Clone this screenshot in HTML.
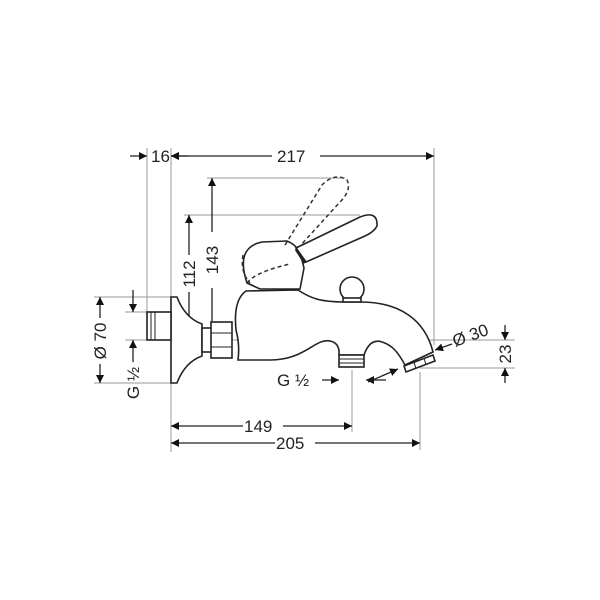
<!DOCTYPE html>
<html><head><style>
body{margin:0;background:#fff}
svg{display:block}
text{font-family:"Liberation Sans",sans-serif;fill:#222;font-size:17px}
</style></head><body>
<svg width="600" height="600" viewBox="0 0 600 600" xmlns="http://www.w3.org/2000/svg">
<defs>
<marker id="a" viewBox="0 0 10 10" refX="10" refY="5" markerWidth="10" markerHeight="8" orient="auto-start-reverse" markerUnits="userSpaceOnUse"><path d="M0,0 L10,5 L0,10 Z" fill="#111"/></marker>
</defs>
<g stroke="#999" stroke-width="1" fill="none">
<line x1="147" y1="148" x2="147" y2="312"/>
<line x1="171" y1="148" x2="171" y2="452"/>
<line x1="434" y1="148" x2="434" y2="345"/>
<line x1="207" y1="178" x2="345" y2="178"/>
<line x1="184" y1="215" x2="360" y2="215"/>
<line x1="94" y1="297" x2="171" y2="297"/>
<line x1="94" y1="383" x2="171" y2="383"/>
<line x1="125" y1="312" x2="150" y2="312"/>
<line x1="125" y1="340" x2="150" y2="340"/>
<line x1="150" y1="340" x2="515" y2="340"/>
<line x1="420" y1="368" x2="515" y2="368"/>
<line x1="352" y1="370" x2="352" y2="432"/>
<line x1="420" y1="372" x2="420" y2="450"/>
</g>
<g stroke="#222" stroke-width="1.3" fill="none">
<line x1="130" y1="156" x2="147" y2="156" marker-end="url(#a)"/>
<line x1="188" y1="156" x2="171" y2="156" marker-end="url(#a)"/>
<line x1="171" y1="156" x2="272" y2="156" marker-start="url(#a)"/>
<line x1="320" y1="156" x2="434" y2="156" marker-end="url(#a)"/>
<line x1="189" y1="215" x2="189" y2="255" marker-start="url(#a)"/>
<line x1="189" y1="292" x2="189" y2="339" marker-end="url(#a)"/>
<line x1="212" y1="178" x2="212" y2="232" marker-start="url(#a)"/>
<line x1="212" y1="288" x2="212" y2="339" marker-end="url(#a)"/>
<line x1="100" y1="297" x2="100" y2="318" marker-start="url(#a)"/>
<line x1="100" y1="364" x2="100" y2="383" marker-end="url(#a)"/>
<line x1="133" y1="290" x2="133" y2="312" marker-end="url(#a)"/>
<line x1="133" y1="362" x2="133" y2="340" marker-end="url(#a)"/>
<line x1="322" y1="380" x2="339" y2="380" marker-end="url(#a)"/>
<line x1="386" y1="380" x2="366" y2="380" marker-end="url(#a)"/>
<line x1="505" y1="325" x2="505" y2="340" marker-end="url(#a)"/>
<line x1="505" y1="383" x2="505" y2="368" marker-end="url(#a)"/>
<line x1="452" y1="344" x2="435" y2="350" marker-end="url(#a)"/>
<line x1="368" y1="382" x2="398" y2="369" marker-end="url(#a)"/>
<line x1="171" y1="426" x2="243" y2="426" marker-start="url(#a)"/>
<line x1="283" y1="426" x2="352" y2="426" marker-end="url(#a)"/>
<line x1="171" y1="443" x2="275" y2="443" marker-start="url(#a)"/>
<line x1="315" y1="443" x2="420" y2="443" marker-end="url(#a)"/>
</g>
<g fill="#fff" stroke="#222" stroke-width="1.6">
<path d="M171,297 L177,297 Q185,318 202,324 L202,356 Q185,362 177,383 L171,383 Z"/>
<rect x="147" y="312" width="24" height="28"/>
<line x1="151" y1="312" x2="151" y2="340" stroke-width="1"/>
<line x1="155" y1="312" x2="155" y2="340" stroke-width="1"/>
<rect x="202" y="328" width="10" height="24"/>
<rect x="211" y="322" width="21" height="36"/>
<line x1="211" y1="333" x2="232" y2="333" stroke-width="1"/>
<line x1="211" y1="347" x2="232" y2="347" stroke-width="1"/>
<path d="M246,291 L298,290 C310,298 320,302 345,302 L360,302 C400,302 425,320 433,352 L405,365 C398,352 392,345 382,342 Q370,338 364,355 L339,355 Q340,343 330,341 C315,338 305,360 270,360 L238,360 Q240,345 236,330 Q233,300 246,291 Z"/>
<circle cx="352" cy="289" r="12"/>
<rect x="343" y="298" width="18" height="4"/>
<path d="M247,283 C240,262 242,246 262,242 L287,241 Q295,244 300,252 L304,268 L300,289 L260,289 Z"/>
<path d="M296,248 L360,217 Q378,210 377,226 Q374,232 365,236 L306,262 Z"/>
<line x1="296" y1="249" x2="305" y2="263" stroke-width="3"/>
<rect x="339" y="355" width="25" height="12"/>
<line x1="339" y1="359" x2="364" y2="359" stroke-width="1"/>
<line x1="339" y1="363" x2="364" y2="363" stroke-width="1"/>
<path d="M404,366 L433,355 L435,361 L406,372 Z"/>
<line x1="414" y1="362" x2="416" y2="369" stroke-width="1"/>
<line x1="424" y1="358" x2="426" y2="365" stroke-width="1"/>
</g>
<g fill="none" stroke="#333" stroke-width="1.5" stroke-dasharray="4,3">
<path d="M285,245 L322,185 Q335,172 347,180 Q352,190 340,202 L300,246"/>
<path d="M247,283 Q255,272 290,264"/>
<path d="M243,255 Q240,272 250,283"/>
</g>
<text x="151" y="162">16</text>
<text x="277" y="162">217</text>
<text x="244" y="432">149</text>
<text x="276" y="449">205</text>
<text x="277" y="386">G ½</text>
<text transform="translate(195,274) rotate(-90)" text-anchor="middle">112</text>
<text transform="translate(218,260) rotate(-90)" text-anchor="middle">143</text>
<text transform="translate(106,341) rotate(-90)" text-anchor="middle">Ø 70</text>
<text transform="translate(139,383) rotate(-90)" text-anchor="middle">G ½</text>
<text transform="translate(511,354) rotate(-90)" text-anchor="middle">23</text>
<text transform="translate(455,347) rotate(-20)">Ø 30</text>
</svg>
</body></html>
